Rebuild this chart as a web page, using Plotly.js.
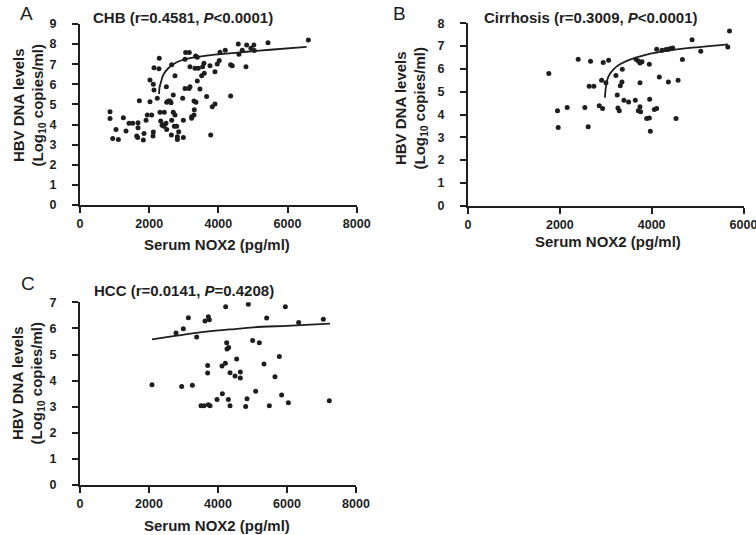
<!DOCTYPE html>
<html>
<head>
<meta charset="utf-8">
<script src="https://cdn.plot.ly/plotly-3.0.1.min.js"></script>
<style>html,body{margin:0;padding:0;background:#fff;}#chart{width:756px;height:535px;}</style>
</head>
<body>
<div id="chart"></div>
<script>
// ---- Panel A: CHB ----
const chbX = [868,868,1041,945,1109,1253,1330,1417,1523,1677,1716,1677,1639,1668,1851,1832,1909,1945,2072,2024,2111,2120,2023,2119,2139,2139,2283,2292,2234,2312,2437,2332,2408,2486,2371,2429,2506,2497,2505,2555,2603,2632,2650,2746,2697,2697,2746,2651,2641,2728,2795,2815,2815,2853,2988,2988,2968,3036,3151,3181,3055,3159,3035,3179,3297,3229,3297,3228,3304,3344,3391,3324,3419,3546,3584,3391,3468,3517,3593,3353,3661,3757,3824,3902,3779,3902,3969,4026,4046,4200,4355,4402,4355,4576,4595,4691,4818,4942,5029,5038,4798,5434,6602];
const chbY = [4.64,4.30,3.76,3.31,3.26,4.34,3.68,4.06,4.06,3.84,5.18,4.09,3.43,3.36,3.56,3.23,4.22,4.48,4.48,5.13,3.43,3.63,6.22,6.00,5.72,6.83,6.77,7.30,5.31,4.61,4.61,4.18,3.98,4.06,3.96,3.92,3.76,5.88,5.11,5.17,5.17,5.08,6.97,6.43,5.47,4.61,4.48,4.22,3.48,3.92,3.92,3.39,3.26,3.64,3.36,4.22,5.31,5.79,5.79,5.88,7.58,7.58,7.25,6.88,5.17,4.39,4.47,4.31,4.73,7.41,7.35,6.80,6.80,6.88,7.05,6.17,5.77,6.43,6.55,5.11,5.39,6.93,4.89,5.02,3.48,6.63,7.01,7.18,7.60,7.70,6.97,6.93,5.42,8.01,7.50,7.69,7.96,7.80,7.96,7.68,6.88,8.07,8.20];
const chbFitX = [2285,2300,2332,2408,2552,2794,3179,3661,4142,4818,5500,6552];
const chbFitY = [5.52,5.85,6.05,6.47,6.80,7.10,7.30,7.43,7.51,7.62,7.72,7.86];

// ---- Panel B: Cirrhosis ----
const cirX = [1760,1949,1964,2160,2400,2545,2618,2640,2669,2742,2858,2909,2945,2931,3004,3062,3222,3251,3265,3295,3316,3360,3353,3396,3498,3644,3658,3709,3745,3789,3745,3709,3745,3760,3891,3949,3956,3949,3971,4058,4109,4109,4167,4225,4313,4364,4414,4458,4364,4531,4575,4669,4880,5069,5658,5695];
const cirY = [5.80,4.16,3.43,4.31,6.42,4.31,3.46,5.24,6.34,5.24,4.38,5.50,6.28,4.26,5.39,6.38,5.71,4.85,4.29,4.16,5.26,5.99,5.42,4.63,4.55,4.63,6.42,6.35,6.26,6.31,5.39,4.16,4.34,4.12,3.82,3.85,4.67,6.20,3.27,4.22,4.26,6.86,5.65,6.82,6.85,6.86,6.89,6.92,5.42,3.82,5.50,6.41,7.28,6.77,6.96,7.66];
const cirFitX = [2982,3004,3055,3164,3309,3527,3891,4327,4836,5658];
const cirFitY = [4.74,5.21,5.65,5.97,6.20,6.41,6.63,6.79,6.92,7.08];

// ---- Panel C: HCC ----
const hccX = [2087,2783,2947,2995,3140,3256,3382,3507,3594,3623,3700,3700,3720,3749,3720,3768,3971,4116,4126,4213,4222,4251,4261,4309,4300,4348,4348,4493,4541,4647,4647,4802,4841,4879,5005,5092,5198,5333,5411,5488,5652,5778,5845,5952,6039,6338,7053,7227];
const hccY = [3.84,5.82,3.77,5.99,6.41,3.82,5.67,3.04,3.04,6.28,4.58,4.29,6.45,6.33,3.07,3.04,3.28,4.56,3.50,4.66,6.83,5.45,5.21,5.27,3.28,4.30,3.04,4.18,4.83,4.33,4.10,3.01,3.30,6.93,5.54,3.59,5.45,4.64,6.40,3.04,4.15,4.92,3.45,6.83,3.15,6.23,6.35,3.23];
const hccFitX = [2087,2802,3575,4348,5024,5990,7246];
const hccFitY = [5.58,5.72,5.87,5.96,6.04,6.10,6.18];

// Tick settings
const xTicksA = [0,2000,4000,6000,8000];
const xTicksB = [0,2000,4000,6000];
const yTicksA = [0,1,2,3,4,5,6,7,8,9];
const yTicksB = [0,1,2,3,4,5,6,7,8];
const yTicksC = [0,1,2,3,4,5,6,7];

const W = 756, H = 535;
const px = v => v / W;
const py = v => 1 - v / H;

const ink = '#1e1e1e';
const mk = {color: ink, size: 5};
const ln = {color: ink, width: 1.8, shape: 'spline', smoothing: 0.8};

const traces = [
  {x: chbX, y: chbY, type: 'scatter', mode: 'markers', marker: mk, xaxis: 'x', yaxis: 'y'},
  {x: chbFitX, y: chbFitY, type: 'scatter', mode: 'lines', line: ln, xaxis: 'x', yaxis: 'y'},
  {x: cirX, y: cirY, type: 'scatter', mode: 'markers', marker: mk, xaxis: 'x2', yaxis: 'y2'},
  {x: cirFitX, y: cirFitY, type: 'scatter', mode: 'lines', line: ln, xaxis: 'x2', yaxis: 'y2'},
  {x: hccX, y: hccY, type: 'scatter', mode: 'markers', marker: mk, xaxis: 'x3', yaxis: 'y3'},
  {x: hccFitX, y: hccFitY, type: 'scatter', mode: 'lines', line: ln, xaxis: 'x3', yaxis: 'y3'}
];

function axis(extra) {
  return Object.assign({
    showline: true, linecolor: ink, linewidth: 2,
    ticks: 'outside', ticklen: 6, tickwidth: 2, tickcolor: ink,
    showgrid: false, zeroline: false, fixedrange: true,
    ticklabeloverflow: 'allow',
    tickfont: {family: 'Liberation Sans, Arial, sans-serif', size: 12.5, color: ink, weight: 'bold'}
  }, extra);
}

const bold15 = {family: 'Liberation Sans, Arial, sans-serif', size: 15, color: ink, weight: 'bold'};
const letterFont = {family: 'Liberation Sans, Arial, sans-serif', size: 19, color: ink};

function ann(text, x, y, font, extra) {
  return Object.assign({text: text, xref: 'paper', yref: 'paper', x: px(x), y: py(y),
    xanchor: 'center', yanchor: 'middle', showarrow: false, font: font}, extra || {});
}

const yTitle = 'HBV DNA levels<br>(Log<sub>10</sub> copies/ml)';
const xTitle = 'Serum NOX2 (pg/ml)';

const layout = {
  width: W, height: H,
  margin: {l: 0, r: 0, t: 0, b: 0},
  paper_bgcolor: '#fff', plot_bgcolor: '#fff',
  showlegend: false,
  font: {family: 'Liberation Sans, Arial, sans-serif', color: ink},
  xaxis: axis({domain: [px(80), px(356.7)], range: [0, 8000], tickvals: xTicksA, anchor: 'y'}),
  yaxis: axis({domain: [py(205), py(24)], range: [0, 9], tickvals: yTicksA, anchor: 'x', ticklabelstandoff: 13}),
  xaxis2: axis({domain: [px(468), px(743.5)], range: [0, 6000], tickvals: xTicksB, anchor: 'y2'}),
  yaxis2: axis({domain: [py(205.7), py(23.3)], range: [0, 8], tickvals: yTicksB, anchor: 'x2', ticklabelstandoff: 13}),
  xaxis3: axis({domain: [px(80), px(356)], range: [0, 8000], tickvals: xTicksA, anchor: 'y3'}),
  yaxis3: axis({domain: [py(485), py(302.3)], range: [0, 7], tickvals: yTicksC, anchor: 'x3', ticklabelstandoff: 13}),
  annotations: [
    ann('A', 26, 14, letterFont),
    ann('B', 399, 14, letterFont),
    ann('C', 28, 283, letterFont),
    ann('CHB (r=0.4581, <i>P</i>&lt;0.0001)', 183, 18, bold15),
    ann('Cirrhosis (r=0.3009, <i>P</i>&lt;0.0001)', 590, 17, bold15),
    ann('HCC (r=0.0141, <i>P</i>=0.4208)', 184, 290, bold15),
    ann(yTitle, 28.5, 105, bold15, {textangle: -90}),
    ann(yTitle, 411.5, 108, bold15, {textangle: -90}),
    ann(yTitle, 27.5, 383, bold15, {textangle: -90}),
    ann(xTitle, 217, 245, bold15),
    ann(xTitle, 608, 241, bold15),
    ann(xTitle, 217, 525, bold15)
  ]
};

Plotly.newPlot('chart', traces, layout, {displayModeBar: false, staticPlot: true});
</script>
</body>
</html>
